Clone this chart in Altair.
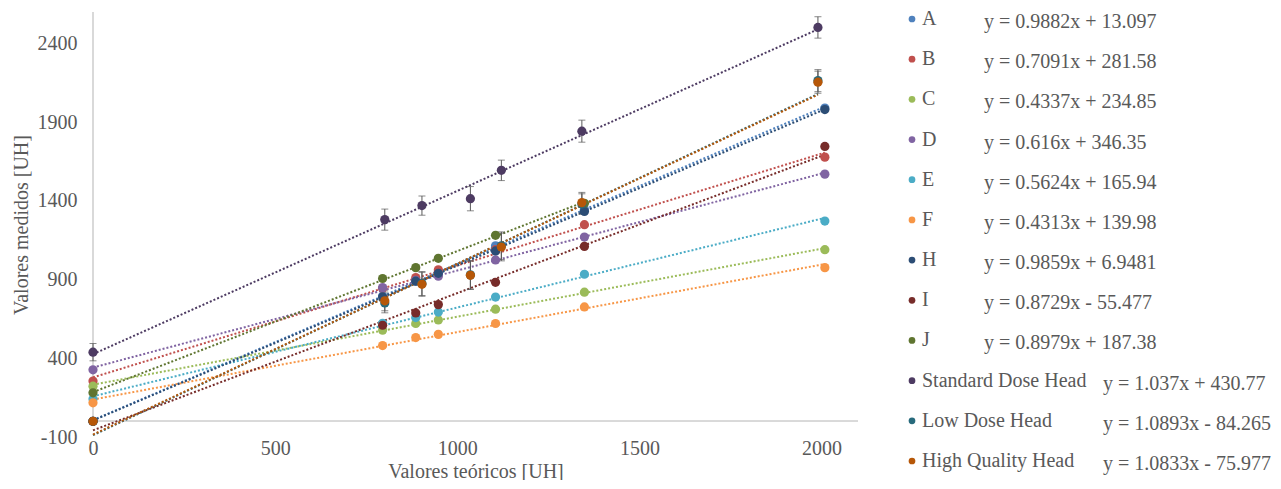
import altair as alt
import pandas as pd

# ---- data ----
series = ["A", "B", "C", "D", "E", "F", "H", "I", "J",
          "Standard Dose Head", "Low Dose Head", "High Quality Head"]
colors = ["#4F81BD", "#C0504D", "#9BBB59", "#8064A2", "#4BACC6", "#F79646",
          "#2C4D75", "#772C2A", "#5F7530", "#4D3B62", "#276A7C", "#B65708"]
equations = ["y = 0.9882x + 13.097", "y = 0.7091x + 281.58", "y = 0.4337x + 234.85",
             "y = 0.616x + 346.35", "y = 0.5624x + 165.94", "y = 0.4313x + 139.98",
             "y = 0.9859x + 6.9481", "y = 0.8729x - 55.477", "y = 0.8979x + 187.38",
             "y = 1.037x + 430.77", "y = 1.0893x - 84.265", "y = 1.0833x - 75.977"]

x_phantom = [0, 795, 886, 948, 1105, 1349, 2009]
x_head = [0, 801, 903, 1036, 1121, 1342, 1990]

A = [0, 795, 890, 945, 1115, 1345, 1990]
B = [255, 845, 913, 962, 1090, 1249, 1678]
C = [223, 579, 621, 644, 712, 820, 1090]
D = [327, 849, 895, 922, 1025, 1170, 1570]
E = [141, 622, 659, 694, 789, 934, 1272]
F = [117, 481, 532, 552, 621, 726, 976]
H = [0, 790, 890, 940, 1082, 1333, 1980]
I = [0, 610, 688, 741, 883, 1111, 1746]
J = [181, 907, 976, 1035, 1181, 1385, None]
std_head = [439, 1281, 1370, 1414, 1594, 1843, 2502]
low_head = [0, 752, 875, 930, 1115, 1380, 2164]
high_head = [0, 765, 870, 927, 1107, 1389, 2154]

std_err = [55, 67, 61, 77, 65, 70, 68]
low_err = [10, 63, 76, 90, 88, 65, 70]
high_err = [10, 63, 76, 90, 88, 65, 70]
no_err = [0, 0, 0, 0, 0, 0, 0]

y_ticks = [-100, 400, 900, 1400, 1900, 2400]
x_ticks = [0, 500, 1000, 1500, 2000]

# ---- build long table ----
series_vals = [A, B, C, D, E, F, H, I, J, std_head, low_head, high_head]
series_x = [x_phantom] * 9 + [x_head] * 3
series_err = [no_err] * 9 + [std_err, low_err, high_err]
rows = []
for name, xs_, ys_, es_ in zip(series, series_x, series_vals, series_err):
    for xv, yv, ev in zip(xs_, ys_, es_):
        if yv is None:
            continue
        rows.append({"series": name, "x": xv, "y": yv, "err": ev})
df = pd.DataFrame(rows)
leg_df = pd.DataFrame({"series": series, "eq": equations})

FONT = "Liberation Serif"
TXT = "#595959"
AXC = "#D9D9D9"

color_scale = alt.Scale(domain=series, range=colors)
xs = alt.Scale(domain=[0, 2100], nice=False, zero=False)
ys = alt.Scale(domain=[-100, 2600], nice=False, zero=False)

xaxis = alt.Axis(values=x_ticks, title="Valores teóricos [UH]", grid=False, domain=False,
                 ticks=False, labelExpr="'' + datum.value", labelFlush=False,
                 labelFont=FONT, labelFontSize=20, labelColor=TXT,
                 labelPadding=1, titleFont=FONT, titleFontSize=20, titleColor=TXT,
                 titleFontWeight="normal", titlePadding=3)
yaxis = alt.Axis(values=y_ticks, title="Valores medidos [UH]", grid=False, domain=False,
                 ticks=False, labelExpr="'' + datum.value", labelFlush=False,
                 labelFont=FONT, labelFontSize=20, labelColor=TXT,
                 labelPadding=16, titleFont=FONT, titleFontSize=20, titleColor=TXT,
                 titleFontWeight="normal", titlePadding=6)

base = alt.Chart(df)

x_line = alt.Chart(df).mark_rule(color=AXC, strokeWidth=1.5).encode(
    y=alt.datum(0, scale=ys))
y_line = alt.Chart(df).mark_rule(color=AXC, strokeWidth=1.5).encode(
    x=alt.datum(0, scale=xs), y=alt.datum(0), y2=alt.datum(2600))

trend = base.transform_regression("x", "y", groupby=["series"]).mark_line(
    strokeDash=[2, 2], strokeWidth=2).encode(
    x=alt.X("x:Q", scale=xs),
    y=alt.Y("y:Q", scale=ys),
    color=alt.Color("series:N", scale=color_scale, legend=None),
    detail="series:N")

eb = base.transform_filter("datum.err > 0").transform_calculate(
    lo="datum.y - datum.err", hi="datum.y + datum.err")
err_rule = eb.mark_rule(color=TXT, strokeWidth=1).encode(
    x=alt.X("x:Q", scale=xs), y=alt.Y("lo:Q", scale=ys), y2="hi:Q")
cap_lo = eb.mark_tick(orient="horizontal", color=TXT, size=7, thickness=1).encode(
    x=alt.X("x:Q", scale=xs), y=alt.Y("lo:Q", scale=ys))
cap_hi = eb.mark_tick(orient="horizontal", color=TXT, size=7, thickness=1).encode(
    x=alt.X("x:Q", scale=xs), y=alt.Y("hi:Q", scale=ys))

points = base.mark_circle(size=85, opacity=1).encode(
    x=alt.X("x:Q", scale=xs, axis=xaxis),
    y=alt.Y("y:Q", scale=ys, axis=yaxis),
    color=alt.Color("series:N", scale=color_scale, legend=None))

main = alt.layer(x_line, y_line, trend, err_rule, cap_lo, cap_hi, points)

# ---- legend panel (right side) ----
leg = alt.Chart(leg_df)
ly = alt.Y("series:N", sort=series, axis=None,
           scale=alt.Scale(type="point", range=[7, 449], padding=0))
dots = leg.mark_circle(size=45, opacity=1).encode(
    x=alt.value(819), y=ly,
    color=alt.Color("series:N", scale=color_scale, legend=None))
names = leg.mark_text(align="left", baseline="middle", font=FONT, fontSize=20,
                      color=TXT).encode(x=alt.value(829), y=ly, text="series:N")
eqs_short = leg.transform_filter("length(datum.series) == 1").mark_text(
    align="left", baseline="middle", font=FONT, fontSize=20, color=TXT, dy=3).encode(
    x=alt.value(891), y=ly, text="eq:N")
eqs_long = leg.transform_filter("length(datum.series) > 1").mark_text(
    align="left", baseline="middle", font=FONT, fontSize=20, color=TXT, dy=3).encode(
    x=alt.value(1010), y=ly, text="eq:N")
legend = alt.layer(dots, names, eqs_short, eqs_long)

chart = alt.layer(main, legend).resolve_scale(y="independent").properties(
    width=765, height=425,
    autosize=alt.AutoSizeParams(type="none"),
    padding={"left": 85, "top": 4, "right": 415, "bottom": 43},
).configure(background="white", view=alt.ViewConfig(stroke=None))

chart.save("out.html", embed_options={"renderer": "svg", "actions": False})
